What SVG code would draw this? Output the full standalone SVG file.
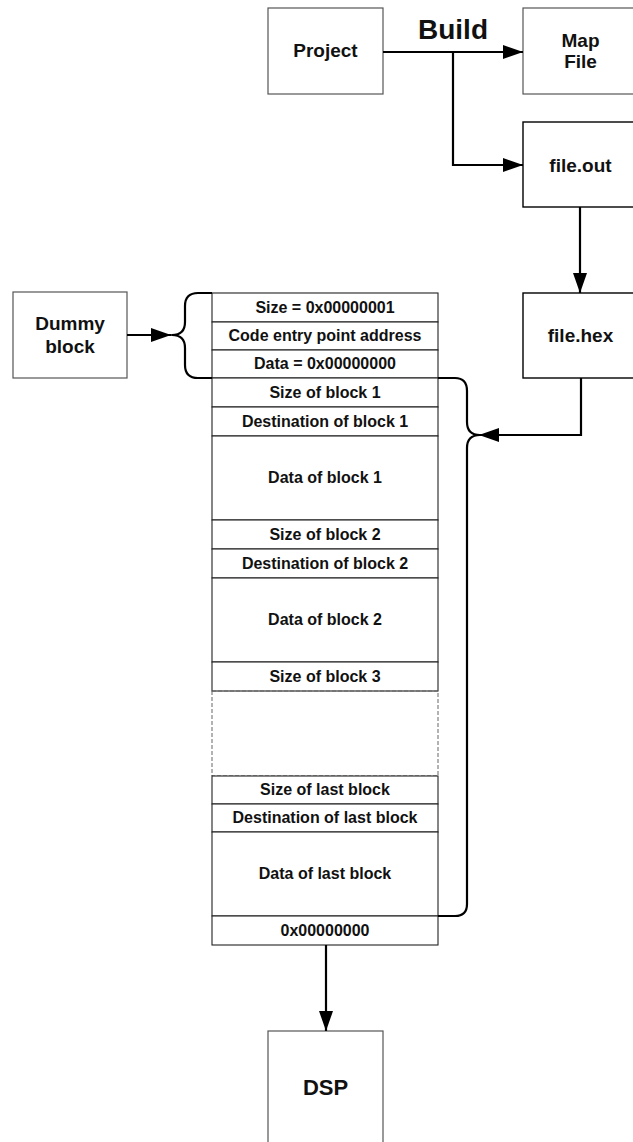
<svg xmlns="http://www.w3.org/2000/svg" width="633" height="1142" viewBox="0 0 633 1142">
  <style>
    .box { fill: #fff; stroke: #555; stroke-width: 1.2; }
    .boxk { fill: #fff; stroke: #000; stroke-width: 1.4; }
    .lbl { font-family: "Liberation Sans", Arial, Helvetica, sans-serif; font-weight: bold; font-size: 19px; fill: #111; text-anchor: middle; }
    .cell { font-family: "Liberation Sans", Arial, Helvetica, sans-serif; font-weight: bold; font-size: 16px; fill: #111; text-anchor: middle; }
    .row { fill: #fff; stroke: #222; stroke-width: 1.1; }
    .dash { fill: none; stroke: #666; stroke-width: 1; stroke-dasharray: 4 2; }
    .wire { fill: none; stroke: #000; stroke-width: 2.2; }
    .brace { fill: none; stroke: #000; stroke-width: 2.2; stroke-linejoin: round; }
  </style>
  <defs>
    <marker id="arrow" markerUnits="userSpaceOnUse" markerWidth="20" markerHeight="14" refX="20" refY="7" orient="auto">
      <path d="M0,0 L20,7 L0,14 z" fill="#000"/>
    </marker>
  </defs>

  <rect width="633" height="1142" fill="#fff"/>

  <!-- build chain -->
  <g id="project">
    <rect class="box" x="268" y="8" width="115" height="86"/>
    <text class="lbl" x="325.5" y="57">Project</text>
  </g>
  <g id="mapfile">
    <rect class="box" x="523" y="8" width="115" height="86"/>
    <text class="lbl" x="580.5" y="47">Map</text>
    <text class="lbl" x="580.5" y="68">File</text>
  </g>
  <g id="fileout">
    <rect class="boxk" x="523" y="122" width="115" height="85"/>
    <text class="lbl" x="580.5" y="172">file.out</text>
  </g>
  <g id="filehex">
    <rect class="boxk" x="523" y="293" width="115" height="85"/>
    <text class="lbl" x="580.5" y="342">file.hex</text>
  </g>
  <g id="dummy">
    <rect class="box" x="13" y="292" width="114" height="86"/>
    <text class="lbl" x="70" y="330">Dummy</text>
    <text class="lbl" x="70" y="353">block</text>
  </g>
  <g id="dsp">
    <rect class="box" x="268" y="1031" width="115" height="130"/>
    <text class="lbl" x="325.5" y="1095" style="font-size:22px">DSP</text>
  </g>

  <!-- boot table -->
  <g id="boot-table">
    <rect class="row" x="212" y="293" width="226" height="29"/>
    <rect class="row" x="212" y="322" width="226" height="28"/>
    <rect class="row" x="212" y="350" width="226" height="28"/>
    <rect class="row" x="212" y="378" width="226" height="29"/>
    <rect class="row" x="212" y="407" width="226" height="29"/>
    <rect class="row" x="212" y="436" width="226" height="84"/>
    <rect class="row" x="212" y="520" width="226" height="29"/>
    <rect class="row" x="212" y="549" width="226" height="29"/>
    <rect class="row" x="212" y="578" width="226" height="84"/>
    <rect class="row" x="212" y="662" width="226" height="29"/>
    <rect class="dash" x="212" y="691" width="226" height="85"/>
    <rect class="row" x="212" y="776" width="226" height="28"/>
    <rect class="row" x="212" y="804" width="226" height="28"/>
    <rect class="row" x="212" y="832" width="226" height="84"/>
    <rect class="row" x="212" y="916" width="226" height="29"/>

    <text class="cell" x="325" y="313">Size = 0x00000001</text>
    <text class="cell" x="325" y="341">Code entry point address</text>
    <text class="cell" x="325" y="369">Data = 0x00000000</text>
    <text class="cell" x="325" y="398">Size of block 1</text>
    <text class="cell" x="325" y="427">Destination of block 1</text>
    <text class="cell" x="325" y="483">Data of block 1</text>
    <text class="cell" x="325" y="540">Size of block 2</text>
    <text class="cell" x="325" y="569">Destination of block 2</text>
    <text class="cell" x="325" y="625">Data of block 2</text>
    <text class="cell" x="325" y="682">Size of block 3</text>
    <text class="cell" x="325" y="795">Size of last block</text>
    <text class="cell" x="325" y="823">Destination of last block</text>
    <text class="cell" x="325" y="879">Data of last block</text>
    <text class="cell" x="325" y="936">0x00000000</text>
  </g>

  <!-- connectors and braces -->
  <g id="connectors">
    <text x="453" y="39" style="font-family:'Liberation Sans',Arial,Helvetica,sans-serif;font-weight:bold;font-size:28px;fill:#111;text-anchor:middle">Build</text>
    <path class="wire" d="M383,52 H523" marker-end="url(#arrow)"/>
    <path class="wire" d="M453,52 V165 H523" marker-end="url(#arrow)"/>
    <path class="wire" d="M580,207 V293" marker-end="url(#arrow)"/>
    <path class="wire" d="M581,378 V435 H479" marker-end="url(#arrow)"/>
    <path class="wire" d="M127,335 H171" marker-end="url(#arrow)"/>
    <path class="wire" d="M326,945 V1031" marker-end="url(#arrow)"/>
    <path class="brace" d="M212,293 H198 Q185,293 185,306 V322 Q185,335 172,335 Q185,335 185,348 V365 Q185,378 198,378 H212"/>
    <path class="brace" d="M438,378 H455 Q467,378 467,391 V422 Q467,435 480,435 Q467,435 467,448 V904 Q467,916 455,916 H438"/>
  </g>
</svg>
